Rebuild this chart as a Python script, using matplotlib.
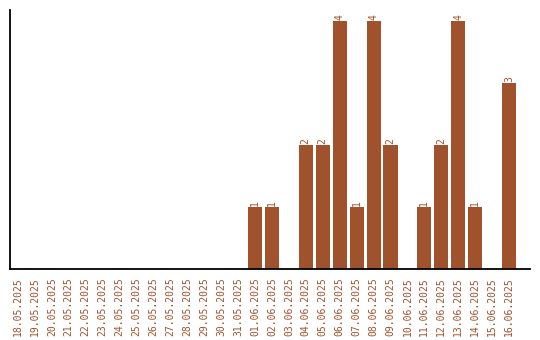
import numpy as np
from matplotlib import pyplot as plt

dates = ['18.05.2025', '19.05.2025', '20.05.2025', '21.05.2025', '22.05.2025',
         '23.05.2025', '24.05.2025', '25.05.2025', '26.05.2025', '27.05.2025',
         '28.05.2025', '29.05.2025', '30.05.2025', '31.05.2025', '01.06.2025',
         '02.06.2025', '03.06.2025', '04.06.2025', '05.06.2025', '06.06.2025',
         '07.06.2025', '08.06.2025', '09.06.2025', '10.06.2025', '11.06.2025',
         '12.06.2025', '13.06.2025', '14.06.2025', '15.06.2025', '16.06.2025']
counts = [0, 0, 0, 0, 0, 0, 0, 0, 0, 0, 0, 0, 0, 0, 1,
          1, 0, 2, 2, 4, 1, 4, 2, 0, 1, 2, 4, 1, 0, 3]

color = '#a0522d'
plt.rcParams['font.family'] = ['DejaVu Sans Mono']

fig = plt.figure(figsize=(5.4, 3.4), dpi=100)
ax = fig.add_axes([10 / 540, 71 / 340, 520 / 540, 259 / 340])

x = np.arange(len(dates))
rects = ax.bar(x, counts, 0.83, color=color)
ax.bar_label(rects, labels=[str(c) if c else '' for c in counts],
             rotation=90, padding=1, color=color, fontsize=7)

# a bit of empty room is left on the right side
ax.set_xlim(-0.47, 30.24)
ax.set_ylim(0, 4.18)
ax.set_xticks(x, dates, rotation=90, color=color, fontsize=7)
ax.tick_params(axis='x', length=0, pad=6)
ax.set_yticks([])
ax.spines['top'].set_visible(False)
ax.spines['right'].set_visible(False)
ax.spines['left'].set_linewidth(1.3)
ax.spines['bottom'].set_linewidth(1.3)

fig.savefig('out.png', dpi=100)
